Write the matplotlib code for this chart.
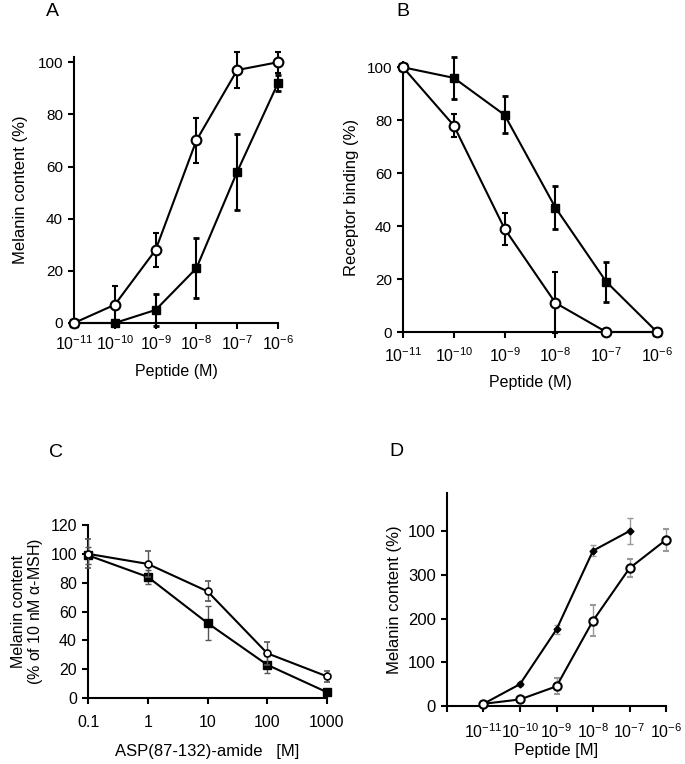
import matplotlib
matplotlib.use("Agg")
import matplotlib.pyplot as plt
import numpy as np

plt.rcParams['font.family'] = ['Liberation Sans', 'DejaVu Sans']
plt.rcParams['mathtext.fontset'] = 'custom'
plt.rcParams['mathtext.rm'] = 'Liberation Sans'
plt.rcParams['mathtext.it'] = 'Liberation Sans'
plt.rcParams['mathtext.sf'] = 'Liberation Sans'

# ---------------- data ----------------
conc = [1e-11, 1e-10, 1e-9, 1e-8, 1e-7, 1e-6]
conc_labels = ['$10^{-11}$', '$10^{-10}$', '$10^{-9}$', '$10^{-8}$', '$10^{-7}$', '$10^{-6}$']

# Panel A
a_open = [0, 7, 28, 70, 97, 100]
a_open_err = [0, 7, 6.5, 8.5, 7, 4]
a_sq = [0, 0, 5, 21, 58, 92]
a_sq_err = [0, 0, 6, 11.5, 14.5, 3]

# Panel B
b_sq = [100, 96, 82, 47, 19, 0]
b_sq_err = [0, 8, 7, 8, 7.5, 0]
b_open = [100, 78, 39, 11, 0, 0]
b_open_err = [0, 4.5, 6, 11.5, 0, 0]

# Panel C
c_conc = [0.1, 1, 10, 100, 1000]
c_conc_labels = ['0.1', '1', '10', '100', '1000']
c_open = [100, 93, 74, 31, 15]
c_open_err = [10, 9, 7, 8, 4]
c_sq = [99, 84, 52, 23, 4]
c_sq_err = [6, 5, 12, 6, 2]

# Panel D
d_dia_conc = [1e-11, 1e-10, 1e-9, 1e-8, 1e-7]
d_dia = [5, 50, 175, 355, 400]
d_dia_err = [0, 4, 10, 12, 30]
d_open = [5, 15, 45, 195, 315, 380]
d_open_err = [0, 3, 18, 35, 20, 25]
d_yticks = [0, 100, 200, 300, 400]
d_ytick_labels = ['0', '100', '200', '300', '100']

fig = plt.figure(figsize=(6.85, 7.64), dpi=100)
W, H = 685, 764

LAB = 12
TICK = 11

def ax_at(l, t, r, b):
    return fig.add_axes([l / W, 1 - b / H, (r - l) / W, (b - t) / H])

def style(ax):
    for s in ['top', 'right']:
        ax.spines[s].set_visible(False)
    for s in ['left', 'bottom']:
        ax.spines[s].set_linewidth(1.5)
    ax.tick_params(direction='out', width=1.5, length=4.5, labelsize=TICK)
    ax.tick_params(axis='x', labelsize=11.5)

eb_thick = dict(elinewidth=1.5, capsize=2.5, capthick=2, color='black', lw=1.5, clip_on=False)

# ---------------- Panel A ----------------
axA = ax_at(74, 57, 278, 323)
style(axA)
axA.set_xscale('log')
axA.errorbar(conc, a_open, yerr=a_open_err, marker='o', ms=7, mfc='white', mec='black',
             mew=1.5, zorder=4, **eb_thick)
axA.errorbar(conc, a_sq, yerr=a_sq_err, marker='s', ms=6, mfc='black', mec='black',
             zorder=3, **eb_thick)
axA.set_xlim(1e-11, 1e-6)
axA.set_ylim(0, 102)
axA.set_yticks([0, 20, 40, 60, 80, 100])
axA.set_xticks(conc)
axA.set_xticklabels(conc_labels)
axA.minorticks_off()
axA.set_ylabel('Melanin content (%)', fontsize=LAB, labelpad=7)
axA.set_xlabel('Peptide (M)', fontsize=11.5, labelpad=8)
fig.text(52 / W, 1 - 12 / H, 'A', fontsize=14, ha='center', va='center')

# ---------------- Panel B ----------------
axB = ax_at(403, 62, 657, 332)
style(axB)
axB.set_xscale('log')
axB.errorbar(conc, b_sq, yerr=b_sq_err, marker='s', ms=6, mfc='black', mec='black',
             zorder=3, **eb_thick)
axB.errorbar(conc, b_open, yerr=b_open_err, marker='o', ms=7, mfc='white', mec='black',
             mew=1.5, zorder=4, **eb_thick)
axB.set_xlim(1e-11, 1e-6)
axB.set_ylim(0, 102)
axB.set_yticks([0, 20, 40, 60, 80, 100])
axB.set_xticks(conc)
axB.set_xticklabels(conc_labels)
axB.minorticks_off()
axB.tick_params(axis='x', pad=6)
axB.set_ylabel('Receptor binding (%)', fontsize=LAB, labelpad=5)
axB.set_xlabel('Peptide (M)', fontsize=11.5, labelpad=7)
fig.text(403 / W, 1 - 11 / H, 'B', fontsize=14, ha='center', va='center')

# ---------------- Panel C ----------------
axC = ax_at(88, 525, 327, 698)
style(axC)
axC.set_xscale('log')
eb_thin = dict(elinewidth=1, ecolor='#555555', capsize=2.5, capthick=1, color='black', lw=1.5, clip_on=False)
axC.errorbar(c_conc, c_open, yerr=c_open_err, marker='o', ms=5, mfc='white', mec='black',
             mew=1.2, zorder=4, **eb_thin)
axC.errorbar(c_conc, c_sq, yerr=c_sq_err, marker='s', ms=5.5, mfc='black', mec='black',
             zorder=3, **eb_thin)
axC.set_xlim(0.1, 1000)
axC.set_ylim(0, 120)
axC.set_yticks([0, 20, 40, 60, 80, 100, 120])
axC.set_xticks(c_conc)
axC.set_xticklabels(c_conc_labels)
axC.minorticks_off()
axC.tick_params(axis='x', pad=8, labelsize=11.5)
axC.tick_params(axis='y', labelsize=11.5)
axC.set_ylabel('Melanin content\n(% of 10 nM $\\alpha$-MSH)', fontsize=11.5, labelpad=4,
               linespacing=1.0)
axC.set_xlabel('ASP(87-132)-amide   [M]', fontsize=LAB, labelpad=10)
fig.text(56 / W, 1 - 453 / H, 'C', fontsize=14, ha='center', va='center')

# ---------------- Panel D ----------------
axD = ax_at(447, 493, 666, 706)
style(axD)
axD.set_xscale('log')
eb_gray = dict(elinewidth=1, ecolor='#999999', capsize=2.5, capthick=1, color='black', lw=1.5, clip_on=False)
axD.errorbar(d_dia_conc, d_dia, yerr=d_dia_err, marker='D', ms=3.5, mfc='black', mec='black',
             zorder=3, **eb_gray)
axD.errorbar(conc, d_open, yerr=d_open_err, marker='o', ms=6, mfc='white', mec='black',
             mew=1.5, zorder=4, **eb_gray)
axD.set_xlim(1e-12, 1e-6)
axD.set_ylim(0, 487)
axD.set_yticks(d_yticks)
axD.set_yticklabels(d_ytick_labels)
axD.set_xticks([1e-12] + conc)
axD.set_xticklabels([''] + conc_labels)
axD.minorticks_off()
axD.tick_params(axis='y', labelsize=TICK + 1)
axD.tick_params(axis='x', pad=7, labelsize=11.5)
axD.set_ylabel('Melanin content (%)', fontsize=LAB, labelpad=4)
axD.set_xlabel('Peptide [M]', fontsize=LAB, labelpad=2)
fig.text(396 / W, 1 - 452 / H, 'D', fontsize=14, ha='center', va='center')

fig.savefig('out.png', dpi=100, facecolor='white')
